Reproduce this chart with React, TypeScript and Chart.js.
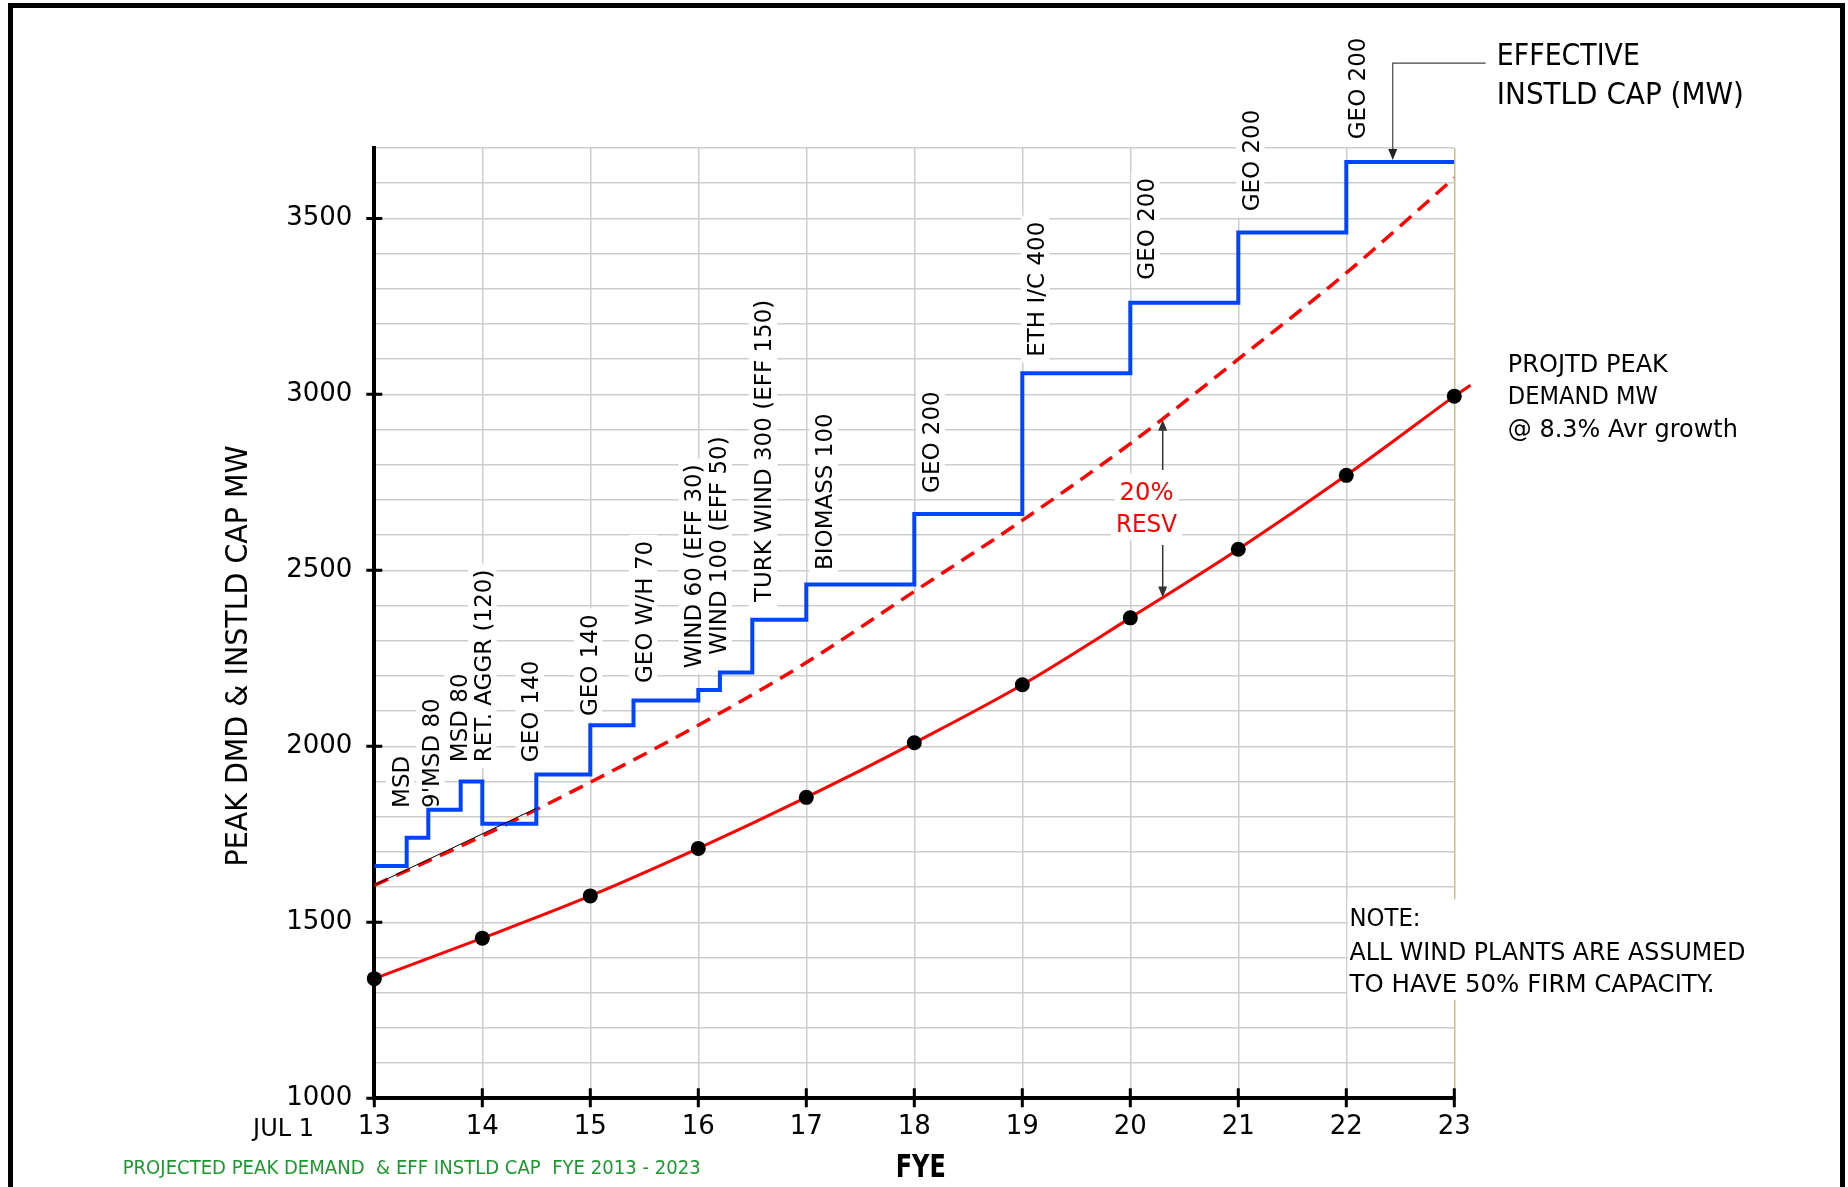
import React, { useEffect, useRef } from "react";
import { Chart, registerables } from "chart.js";

Chart.register(...registerables);

const FONT = "'DejaVu Sans', Verdana, sans-serif";

// ---------- data ----------
const demandYears = [13, 14, 15, 16, 17, 18, 19, 20, 21, 22, 23];
const demandMW = [1340, 1455, 1575, 1710, 1855, 2010, 2175, 2365, 2560, 2770, 2995];
const demandTailYears = [23.15, 23];
const demandTailMW = [3026, 2995];
const reserveMW = [1605, 1745, 1898, 2060, 2238, 2440, 2642, 2860, 3100, 3345, 3615];
const capYears = [13, 13.3, 13.5, 13.8, 14, 14.5, 15, 15.4, 16, 16.2, 16.5, 17, 18, 19, 20, 21, 22, 23];
const capMW = [1660, 1740, 1820, 1900, 1780, 1920, 2060, 2130, 2160, 2210, 2360, 2460, 2660, 3060, 3260, 3460, 3660, 3660];
const guideYears = [13, 14.5];
const guideMW = [1606, 1824];
const xTickLabels = ["13", "14", "15", "16", "17", "18", "19", "20", "21", "22", "23"];
const yMajorTicks = [1000, 1500, 2000, 2500, 3000, 3500];

// capacity additions (text, anchored at year / MW of the label's lower end)
const additionText = [
  "MSD", "9'MSD 80", "MSD 80", "RET. AGGR (120)", "GEO 140", "GEO 140", "GEO W/H 70",
  "WIND 60 (EFF 30)", "WIND 100 (EFF 50)", "TURK WIND 300 (EFF 150)", "BIOMASS 100",
  "GEO 200", "ETH I/C 400", "GEO 200", "GEO 200", "GEO 200",
];
const additionYear = [13.24, 13.52, 13.78, 14.0, 14.44, 14.98, 15.49, 15.95, 16.18, 16.6, 17.16, 18.15, 19.12, 20.14, 21.11, 22.1];
const additionMW = [1825, 1825, 1955, 1955, 1955, 2086, 2180, 2222, 2260, 2410, 2501, 2720, 3107, 3326, 3520, 3725];

function hText(
  ctx: CanvasRenderingContext2D,
  text: string,
  x: number,
  yc: number,
  size: number,
  o: { bold?: boolean; color?: string; align?: CanvasTextAlign; maxWidth?: number; bg?: boolean } = {}
) {
  ctx.save();
  ctx.font = `${o.bold ? "bold " : ""}${size}px ${FONT}`;
  ctx.textAlign = o.align || "left";
  ctx.textBaseline = "alphabetic";
  let w = ctx.measureText(text).width;
  if (o.maxWidth && w > o.maxWidth) w = o.maxWidth;
  if (o.bg) {
    let x0 = x;
    if (ctx.textAlign === "center") x0 = x - w / 2;
    else if (ctx.textAlign === "right") x0 = x - w;
    ctx.fillStyle = "#fff";
    ctx.fillRect(x0 - 5, yc - size * 0.7, w + 10, size * 1.4);
  }
  ctx.fillStyle = o.color || "#000";
  if (o.maxWidth) ctx.fillText(text, x, yc + size * 0.365, o.maxWidth);
  else ctx.fillText(text, x, yc + size * 0.365);
  ctx.restore();
}

function vBox(ctx: CanvasRenderingContext2D, text: string, cx: number, y: number, size: number) {
  ctx.save();
  ctx.font = `${size}px ${FONT}`;
  const w = ctx.measureText(text).width;
  ctx.fillStyle = "#fff";
  ctx.fillRect(cx - size * 0.62, y - w - 6, size * 1.24, w + 12);
  ctx.restore();
}

function vText(
  ctx: CanvasRenderingContext2D,
  text: string,
  cx: number,
  y: number,
  size: number,
  o: { align?: CanvasTextAlign; maxWidth?: number } = {}
) {
  ctx.save();
  ctx.font = `${size}px ${FONT}`;
  ctx.translate(cx, y);
  ctx.rotate(-Math.PI / 2);
  ctx.textAlign = o.align || "left";
  ctx.textBaseline = "alphabetic";
  ctx.fillStyle = "#000";
  if (o.maxWidth) ctx.fillText(text, 0, size * 0.365, o.maxWidth);
  else ctx.fillText(text, 0, size * 0.365);
  ctx.restore();
}

function arrowHead(ctx: CanvasRenderingContext2D, tx: number, ty: number, dx: number, dy: number) {
  const len = 11;
  const half = 4.5;
  const bx = tx - dx * len;
  const by = ty - dy * len;
  ctx.beginPath();
  ctx.moveTo(tx, ty);
  ctx.lineTo(bx - dy * half, by + dx * half);
  ctx.lineTo(bx + dy * half, by - dx * half);
  ctx.closePath();
  ctx.fill();
}

const overlayPlugin = {
  id: "overlay",
  beforeDatasetsDraw(chart: any) {
    const ctx: CanvasRenderingContext2D = chart.ctx;
    const xs = chart.scales.x;
    const ys = chart.scales.y;
    const X = (v: number) => xs.getPixelForValue(v);
    const Y = (v: number) => ys.getPixelForValue(v);

    additionText.forEach((t, i) => vBox(ctx, t, X(additionYear[i]), Y(additionMW[i]), 23));
    additionText.forEach((t, i) => vText(ctx, t, X(additionYear[i]), Y(additionMW[i]), 23));

    // 20% reserve marker
    ctx.save();
    ctx.strokeStyle = "#333";
    ctx.fillStyle = "#333";
    ctx.lineWidth = 1.5;
    const ax = X(20.3);
    ctx.beginPath();
    ctx.moveTo(ax, Y(2785));
    ctx.lineTo(ax, Y(2928) + 8);
    ctx.moveTo(ax, Y(2572));
    ctx.lineTo(ax, Y(2423) - 8);
    ctx.stroke();
    arrowHead(ctx, ax, Y(2928), 0, -1);
    arrowHead(ctx, ax, Y(2423), 0, 1);
    ctx.restore();
    hText(ctx, "20%", X(20.15), Y(2725), 25, { align: "center", color: "#ff0000", maxWidth: 54, bg: true });
    hText(ctx, "RESV", X(20.15), Y(2635), 25, { align: "center", color: "#ff0000", maxWidth: 61, bg: true });

    // note
    const nx = X(22.03);
    ctx.save();
    ctx.fillStyle = "#fff";
    ctx.fillRect(nx - 2, Y(1565), 410, Y(1280) - Y(1565));
    ctx.restore();
    hText(ctx, "NOTE:", nx, Y(1515), 25, { maxWidth: 71 });
    hText(ctx, "ALL WIND PLANTS ARE ASSUMED", nx, Y(1419), 25, { maxWidth: 396 });
    hText(ctx, "TO HAVE 50% FIRM CAPACITY.", nx, Y(1328), 25, { maxWidth: 365 });
  },
  afterDraw(chart: any) {
    const ctx: CanvasRenderingContext2D = chart.ctx;
    const xs = chart.scales.x;
    const ys = chart.scales.y;
    const X = (v: number) => xs.getPixelForValue(v);
    const Y = (v: number) => ys.getPixelForValue(v);
    const { left, bottom } = chart.chartArea;

    // crossing tick marks
    ctx.save();
    ctx.strokeStyle = "#000";
    ctx.lineWidth = 3;
    ctx.beginPath();
    yMajorTicks.forEach((v) => {
      const p = Y(v);
      ctx.moveTo(left - 8, p);
      ctx.lineTo(left + 8, p);
    });
    demandYears.forEach((v) => {
      const p = X(v);
      ctx.moveTo(p, bottom - 10);
      ctx.lineTo(p, bottom + 9);
    });
    ctx.stroke();
    ctx.restore();

    // leader for effective installed capacity
    ctx.save();
    ctx.strokeStyle = "#444";
    ctx.fillStyle = "#222";
    ctx.lineWidth = 1.2;
    ctx.beginPath();
    ctx.moveTo(X(23.29), Y(3941));
    ctx.lineTo(X(22.43), Y(3941));
    ctx.lineTo(X(22.43), Y(3660) - 6);
    ctx.stroke();
    arrowHead(ctx, X(22.43), Y(3660) - 2, 0, 1);
    ctx.restore();

    hText(ctx, "EFFECTIVE", X(23.394), Y(3967), 30, { maxWidth: 143 });
    hText(ctx, "INSTLD CAP (MW)", X(23.394), Y(3857), 30, { maxWidth: 247 });
    hText(ctx, "PROJTD PEAK", X(23.496), Y(3089), 25, { maxWidth: 160 });
    hText(ctx, "DEMAND MW", X(23.496), Y(2998), 25, { maxWidth: 150 });
    hText(ctx, "@ 8.3% Avr growth", X(23.496), Y(2905), 25, { maxWidth: 230 });

    hText(ctx, "JUL 1", X(12.442), Y(918.5), 24, { align: "right", maxWidth: 62 });
    hText(ctx, "FYE", X(18.06), Y(810), 32, { align: "center", bold: true, maxWidth: 50 });
    hText(ctx, "PROJECTED PEAK DEMAND  & EFF INSTLD CAP  FYE 2013 - 2023", X(10.67), Y(807), 20, {
      color: "#1a9a2e",
      maxWidth: 578,
    });
    vText(ctx, "PEAK DMD & INSTLD CAP MW", X(11.72), Y(2257), 30, { align: "center", maxWidth: 421 });
  },
};

export default function App() {
  const canvasRef = useRef<HTMLCanvasElement | null>(null);

  useEffect(() => {
    if (!canvasRef.current) return;
    const gridColor = "#cdcdcd";
    const chart = new Chart(canvasRef.current, {
      type: "line",
      data: {
        datasets: [
          {
            label: "guide",
            data: guideYears.map((x, i) => ({ x, y: guideMW[i] })),
            borderColor: "#000",
            borderWidth: 1,
            pointRadius: 0,
            order: 0,
          },
          {
            label: "Effective installed capacity",
            data: capYears.map((x, i) => ({ x, y: capMW[i] })),
            borderColor: "#0044ff",
            borderWidth: 4,
            stepped: true,
            pointRadius: 0,
            order: 1,
          },
          {
            label: "Projected peak demand",
            data: demandYears.map((x, i) => ({ x, y: demandMW[i] })),
            borderColor: "#ff0000",
            borderWidth: 3,
            cubicInterpolationMode: "monotone",
            pointRadius: 7.5,
            pointBackgroundColor: "#000",
            pointBorderColor: "#000",
            pointBorderWidth: 0,
            clip: false,
            order: 2,
          },
          {
            label: "demand trend beyond FYE 23",
            data: demandTailYears.map((x, i) => ({ x, y: demandTailMW[i] })),
            borderColor: "#ff0000",
            borderWidth: 3,
            pointRadius: 0,
            clip: false,
            order: 3,
          },
          {
            label: "Demand + 20% reserve",
            data: demandYears.map((x, i) => ({ x, y: reserveMW[i] })),
            borderColor: "#ff0000",
            borderWidth: 3.5,
            borderDash: [15, 9],
            cubicInterpolationMode: "monotone",
            pointRadius: 0,
            order: 4,
          },
        ] as any,
      },
      options: {
        animation: false,
        responsive: true,
        maintainAspectRatio: false,
        layout: { padding: { top: 148, right: 393.7, bottom: 0, left: 0 } },
        plugins: { legend: { display: false }, tooltip: { enabled: false } },
        scales: {
          x: {
            type: "linear",
            min: 13,
            max: 23,
            afterFit: (s: any) => {
              s.height = 88.7;
            },
            ticks: {
              stepSize: 1,
              autoSkip: false,
              padding: 13,
              color: "#000",
              font: { family: FONT, size: 26 },
              callback: (v: any) => {
                const i = demandYears.indexOf(Number(v));
                return i >= 0 ? xTickLabels[i] : "";
              },
            },
            grid: {
              drawTicks: false,
              lineWidth: 1.5,
              color: (c: any) => (c.tick && c.tick.value === 23 ? "#c2c28a" : gridColor),
            },
            border: { color: "#000", width: 4 },
          },
          y: {
            type: "linear",
            min: 1000,
            max: 3700,
            afterFit: (s: any) => {
              s.width = 374.3;
            },
            ticks: {
              stepSize: 100,
              autoSkip: false,
              padding: 22,
              color: "#000",
              font: { family: FONT, size: 26 },
              callback: (v: any) => (yMajorTicks.includes(Number(v)) ? String(v) : ""),
            },
            grid: { drawTicks: false, lineWidth: 1.5, color: gridColor },
            border: { color: "#000", width: 4 },
          },
        },
      } as any,
      plugins: [overlayPlugin],
    });
    return () => chart.destroy();
  }, []);

  return (
    <div style={{ position: "absolute", left: 0, top: 0, width: 1848, height: 1187, background: "#fff", overflow: "hidden" }}>
      <canvas ref={canvasRef} />
      <div
        style={{
          position: "absolute",
          left: 8,
          top: 3,
          width: 1837,
          height: 1184,
          boxSizing: "border-box",
          borderTop: "5px solid #000",
          borderLeft: "5px solid #000",
          borderRight: "5px solid #000",
          pointerEvents: "none",
        }}
      />
    </div>
  );
}
